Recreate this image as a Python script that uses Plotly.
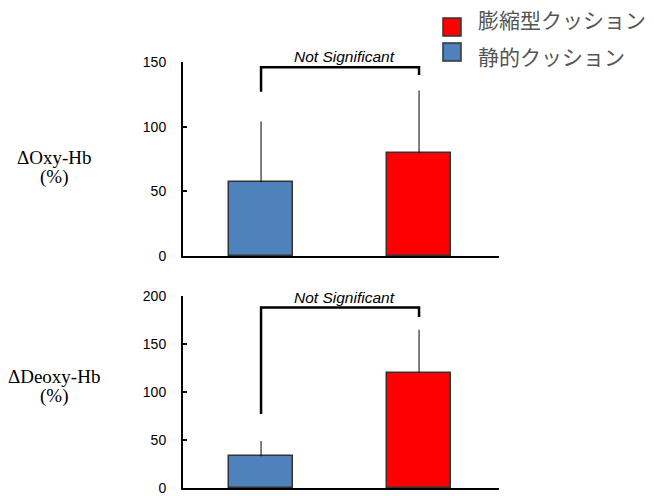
import plotly.graph_objects as go

groups = ["静的クッション", "膨縮型クッション"]
colors = ["#4F81BD", "#FF0000"]

oxy_values = [57, 80]
oxy_err_plus = [47, 48]
deoxy_values = [33, 120]
deoxy_err_plus = [16, 45]

oxy_ticks = [0, 50, 100, 150]
deoxy_ticks = [0, 50, 100, 150, 200]

# significance brackets: [top, left leg end, right leg end]
oxy_bracket = [146, 127, 140]
deoxy_bracket = [188, 77, 178]
sig_label = "Not Significant"

W, H = 654, 496
xpos = [0, 1]

fig = go.Figure()

for xa, ya, vals, errs in [("x", "y", oxy_values, oxy_err_plus), ("x2", "y2", deoxy_values, deoxy_err_plus)]:
    fig.add_trace(go.Bar(
        x=xpos, y=vals, xaxis=xa, yaxis=ya, width=0.4,
        marker=dict(color=colors, line=dict(color="#333333", width=1.5)),
        error_y=dict(type="data", symmetric=False, array=errs, arrayminus=[0, 0],
                     width=0, thickness=1, color="black"),
        showlegend=False, hoverinfo="skip",
    ))

shapes = []
annotations = []
for xr, yr, br in [("x", "y", oxy_bracket), ("x2", "y2", deoxy_bracket)]:
    top, left_end, right_end = br
    shapes.append(dict(type="path", xref=xr, yref=yr,
                       path=f"M {xpos[0]} {left_end} L {xpos[0]} {top} L {xpos[1]} {top} L {xpos[1]} {right_end}",
                       line=dict(color="black", width=2.5)))
    annotations.append(dict(x=(xpos[0] + xpos[1]) / 2 + 0.03, y=top, xref=xr, yref=yr,
                            text=f"<i>{sig_label}</i>", showarrow=False, yanchor="bottom", yshift=0,
                            font=dict(family="Liberation Sans, Arial", size=15.5, color="black")))

# y-axis titles
for txt, ypix1, ypix2, xc in [("ΔOxy-Hb", 157, 177, 54), ("ΔDeoxy-Hb", 376, 396, 54)]:
    annotations.append(dict(x=xc / W, y=1 - ypix1 / H, xref="paper", yref="paper", text=txt,
                            showarrow=False, xanchor="center", yanchor="middle",
                            font=dict(family="Liberation Serif, Times New Roman", size=19, color="black")))
    annotations.append(dict(x=xc / W, y=1 - ypix2 / H, xref="paper", yref="paper", text="(%)",
                            showarrow=False, xanchor="center", yanchor="middle",
                            font=dict(family="Liberation Serif, Times New Roman", size=19, color="black")))

# legend (manual)
legend_items = [(groups[1], colors[1], 27, 19), (groups[0], colors[0], 52, 56)]
for name, col, sq_c, txt_c in legend_items:
    shapes.append(dict(type="rect", xref="paper", yref="paper",
                       x0=443 / W, x1=461 / W, y0=1 - (sq_c + 9) / H, y1=1 - (sq_c - 9) / H,
                       fillcolor=col, line=dict(color="#333333", width=1.5)))
    annotations.append(dict(x=476 / W, y=1 - txt_c / H, xref="paper", yref="paper", text=name,
                            showarrow=False, xanchor="left", yanchor="middle",
                            font=dict(family="Noto Sans CJK JP", size=21, color="#555555")))

xdom = [183 / W, 499 / W]
xrange = [-0.494, 1.506]
axis_common = dict(showline=True, linecolor="black", linewidth=2, showgrid=False, zeroline=False,
                   automargin=False)
tick_common = dict(ticks="inside", ticklen=4, tickwidth=2, tickcolor="black", ticklabelstandoff=12,
                   ticklabeloverflow="allow",
                   tickfont=dict(family="Liberation Sans, Arial", size=14, color="black"))

fig.update_layout(
    width=W, height=H, margin=dict(l=0, r=0, t=0, b=0),
    plot_bgcolor="white", paper_bgcolor="white",
    xaxis=dict(domain=xdom, range=xrange, anchor="y", showticklabels=False, ticks="", **axis_common),
    xaxis2=dict(domain=xdom, range=xrange, anchor="y2", showticklabels=False, ticks="", **axis_common),
    yaxis=dict(domain=[1 - 256 / H, 1 - 62 / H], range=[0, 150], anchor="x", tickvals=oxy_ticks,
               **tick_common, **axis_common),
    yaxis2=dict(domain=[1 - 488 / H, 1 - 296 / H], range=[0, 200], anchor="x2", tickvals=deoxy_ticks,
                **tick_common, **axis_common),
    shapes=shapes, annotations=annotations, bargap=0,
)

fig.write_html("out.html", config={"displayModeBar": False},
               post_script="document.body.style.margin='0';document.body.style.overflow='hidden';")
